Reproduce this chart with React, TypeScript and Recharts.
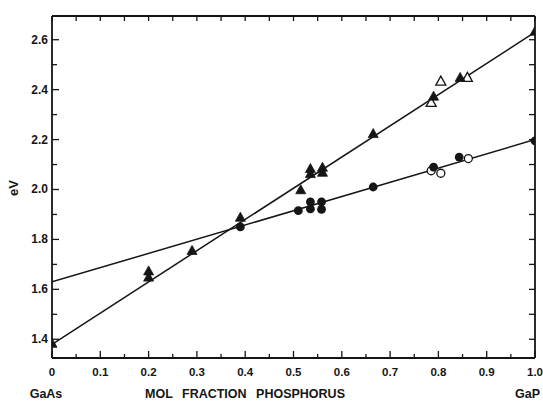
import React from 'react';
import { ComposedChart, XAxis, YAxis, Scatter } from 'recharts';

// ---- tick values ----
const xTicks = [0, 0.05, 0.1, 0.15, 0.2, 0.25, 0.3, 0.35, 0.4, 0.45, 0.5, 0.55, 0.6, 0.65, 0.7, 0.75, 0.8, 0.85, 0.9, 0.95, 1.0];
const yTicks = [1.4, 1.5, 1.6, 1.7, 1.8, 1.9, 2.0, 2.1, 2.2, 2.3, 2.4, 2.5, 2.6];
const xLabeled = [0, 0.1, 0.2, 0.3, 0.4, 0.5, 0.6, 0.7, 0.8, 0.9, 1.0];
const yLabeled = [1.4, 1.6, 1.8, 2.0, 2.2, 2.4, 2.6];

// ---- data ----
const filledTriX = [0, 0.2, 0.2, 0.29, 0.39, 0.515, 0.535, 0.535, 0.56, 0.56, 0.665, 0.79, 0.845, 1.0];
const filledTriY = [1.38, 1.67, 1.645, 1.752, 1.885, 1.995, 2.08, 2.06, 2.085, 2.065, 2.22, 2.37, 2.445, 2.63];
const openTriX = [0.785, 0.805, 0.86];
const openTriY = [2.345, 2.43, 2.445];
const filledCircX = [0.39, 0.51, 0.535, 0.535, 0.558, 0.558, 0.665, 0.79, 0.843, 1.0];
const filledCircY = [1.85, 1.915, 1.95, 1.922, 1.95, 1.92, 2.01, 2.09, 2.13, 2.195];
const openCircX = [0.785, 0.805, 0.862];
const openCircY = [2.075, 2.065, 2.124];
const triLineX = [0, 1.0];
const triLineY = [1.38, 2.63];
const circLineX = [0, 1.0];
const circLineY = [1.63, 2.2];

const toPts = (xs: number[], ys: number[]) => xs.map((x, i) => ({ x, y: ys[i] }));

const INK = '#151515';
const FONT = '"Liberation Sans", Arial, sans-serif';
const W = 543;
const H = 403;

const isIn = (arr: number[], v: number) => arr.some((a) => Math.abs(a - v) < 1e-6);

function BottomTick(props: any) {
  const { x, y, payload } = props;
  const v = payload.value as number;
  const lab = isIn(xLabeled, v);
  return (
    <g>
      <line x1={x} y1={y} x2={x} y2={y - (lab ? 7 : 4)} stroke={INK} strokeWidth={1.3} />
      {lab && (
        <text x={x} y={y + 18} textAnchor="middle" fontFamily={FONT} fontWeight={700} fontSize={11.5} fill={INK}>
          {v === 0 ? '0' : v.toFixed(1)}
        </text>
      )}
    </g>
  );
}

function TopTick(props: any) {
  const { x, y } = props;
  return <line x1={x} y1={y} x2={x} y2={y + 5} stroke={INK} strokeWidth={1.3} />;
}

function LeftTick(props: any) {
  const { x, y, payload } = props;
  const v = payload.value as number;
  const lab = isIn(yLabeled, v);
  return (
    <g>
      <line x1={x} y1={y} x2={x + (lab ? 7 : 5)} y2={y} stroke={INK} strokeWidth={1.3} />
      {lab && (
        <text x={x - 4} y={y + 4} textAnchor="end" fontFamily={FONT} fontWeight={700} fontSize={12} fill={INK}>
          {v.toFixed(1)}
        </text>
      )}
    </g>
  );
}

function RightTick(props: any) {
  const { x, y } = props;
  return <line x1={x} y1={y} x2={x - 6} y2={y} stroke={INK} strokeWidth={1.3} />;
}

function triPath(cx: number, cy: number, w: number, h: number) {
  return `M${cx},${cy - (2 * h) / 3} L${cx + w / 2},${cy + h / 3} L${cx - w / 2},${cy + h / 3} Z`;
}

const FilledTri = (p: any) => <path d={triPath(p.cx, p.cy, 10, 9)} fill={INK} stroke={INK} strokeWidth={0.8} />;
const OpenTri = (p: any) => <path d={triPath(p.cx, p.cy, 10, 9)} fill="#fff" stroke={INK} strokeWidth={1.3} />;
const FilledCirc = (p: any) => <circle cx={p.cx} cy={p.cy} r={4.4} fill={INK} />;
const OpenCirc = (p: any) => <circle cx={p.cx} cy={p.cy} r={4} fill="#fff" stroke={INK} strokeWidth={1.3} />;
const NoShape = () => <g />;

export default function App() {
  const axisLine = { stroke: INK, strokeWidth: 1.8 };
  const xDomain: [number, number] = [0, 1];
  const yDomain: [number, number] = [1.325, 2.695];
  return (
    <div style={{ position: 'absolute', left: 0, top: 0, width: W, height: H, background: '#fff' }}>
      <ComposedChart width={W} height={H} margin={{ top: 15, right: 7, bottom: 0, left: 0 }}>
        <XAxis xAxisId="b" dataKey="x" type="number" domain={xDomain} ticks={xTicks} interval={0}
          orientation="bottom" height={45} tickSize={0} tickMargin={0} tickLine={false}
          axisLine={axisLine} tick={<BottomTick />} allowDataOverflow />
        <XAxis xAxisId="t" dataKey="x" type="number" domain={xDomain} ticks={xTicks} interval={0}
          orientation="top" height={1} tickSize={0} tickMargin={0} tickLine={false}
          axisLine={axisLine} tick={<TopTick />} allowDataOverflow />
        <YAxis yAxisId="l" dataKey="y" type="number" domain={yDomain} ticks={yTicks} interval={0}
          orientation="left" width={52} tickSize={0} tickMargin={0} tickLine={false}
          axisLine={axisLine} tick={<LeftTick />} allowDataOverflow />
        <YAxis yAxisId="r" dataKey="y" type="number" domain={yDomain} ticks={yTicks} interval={0}
          orientation="right" width={1} tickSize={0} tickMargin={0} tickLine={false}
          axisLine={axisLine} tick={<RightTick />} allowDataOverflow />
        <Scatter xAxisId="b" yAxisId="l" data={toPts(triLineX, triLineY)} line={{ stroke: INK, strokeWidth: 1.5 }}
          shape={NoShape} isAnimationActive={false} />
        <Scatter xAxisId="b" yAxisId="l" data={toPts(circLineX, circLineY)} line={{ stroke: INK, strokeWidth: 1.5 }}
          shape={NoShape} isAnimationActive={false} />
        <Scatter xAxisId="b" yAxisId="l" data={toPts(openTriX, openTriY)} shape={OpenTri} isAnimationActive={false} />
        <Scatter xAxisId="b" yAxisId="l" data={toPts(openCircX, openCircY)} shape={OpenCirc} isAnimationActive={false} />
        <Scatter xAxisId="b" yAxisId="l" data={toPts(filledTriX, filledTriY)} shape={FilledTri} isAnimationActive={false} />
        <Scatter xAxisId="b" yAxisId="l" data={toPts(filledCircX, filledCircY)} shape={FilledCirc} isAnimationActive={false} />
      </ComposedChart>
      <svg width={W} height={H} style={{ position: 'absolute', left: 0, top: 0, pointerEvents: 'none' }}>
        <text x={18} y={188} transform="rotate(-90 18 188)" textAnchor="middle" fontFamily={FONT}
          fontWeight={700} fontSize={13} fill={INK}>eV</text>
        <text x={46} y={398} textAnchor="middle" fontFamily={FONT} fontWeight={700} fontSize={12.5} fill={INK}>GaAs</text>
        <text x={245} y={398} textAnchor="middle" fontFamily={FONT} fontWeight={700} fontSize={12.5} fill={INK}
          wordSpacing={6}>MOL FRACTION PHOSPHORUS</text>
        <text x={515} y={398} textAnchor="start" fontFamily={FONT} fontWeight={700} fontSize={12.5} fill={INK}>GaP</text>
      </svg>
    </div>
  );
}
